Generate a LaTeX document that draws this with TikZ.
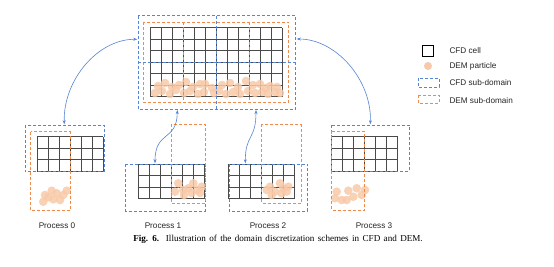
\documentclass[tikz,border=0pt]{standalone}
\usepackage{fontspec}
\setmainfont{Liberation Serif}
\newfontfamily\labelfont{Liberation Sans}
\usetikzlibrary{arrows.meta}
\definecolor{cfdblue}{HTML}{5585D4}
\definecolor{demorange}{HTML}{EE8A4A}
\definecolor{peach}{HTML}{F8C9A8}
\definecolor{gridgray}{HTML}{4A4A4A}
\tikzset{
  cell/.style={draw=gridgray, line width=0.8pt},
  cfdbox/.style={draw=cfdblue, line width=0.9pt, dash pattern=on 3pt off 2pt},
  dembox/.style={draw=demorange, line width=0.9pt, dash pattern=on 3pt off 2pt},
  particle/.style={fill=peach, fill opacity=0.85, draw=none},
  link/.style={draw=cfdblue, line width=0.6pt, {Stealth[length=4pt,width=3pt]}-{Stealth[length=4pt,width=3pt]}},
  plabel/.style={font=\labelfont\fontsize{8.2}{9}\selectfont, text=black!85, inner sep=0pt},
  legtext/.style={font=\labelfont\fontsize{8.2}{9}\selectfont, text=black!85, inner sep=0pt, anchor=west},
}
\newcommand\mygrid[4]{%
  \foreach \i in {0,...,#3} {\draw[cell] ({#1+\i*11},#2) -- ({#1+\i*11},{#2+#4*11.5});}
  \foreach \j in {0,...,#4} {\draw[cell] (#1,{#2+\j*11.5}) -- ({#1+#3*11},{#2+\j*11.5});}
}
\begin{document}
\begin{tikzpicture}[x=1pt,y=-1pt]
\useasboundingbox (0,0) rectangle (554,267);
\fill[white] (0,0) rectangle (554,267);

% ---------- top global domain ----------
\mygrid{150}{27.7}{12}{6}
\foreach \px/\py in {158/86,165/83,172/87,179/85,186/82,193/87,200/84,205/84,212/88,222/85,230/83,238/87,246/81,253/85,260/84,266/88,270/86,277/87,
                     155/93,162/91,170/94,176/90,184/93,190/91,198/94,204/92,214/93,219/91,226/94,233/92,240/94,248/91,255/93,262/92,268/94,275/92,280/93}
  {\fill[particle] (\px,\py) circle (4.3);}
\draw[dembox] (143.3,22.3) rectangle (288.7,102.7);
\draw[dembox] (183.3,22.3) -- (183.3,102.7);
\draw[dembox] (249.3,22.3) -- (249.3,102.7);
\draw[cfdbox] (138.3,15.7) rectangle (295.3,109.3);
\draw[cfdbox] (216.7,15.7) -- (216.7,109.3);
\draw[cfdbox] (138.3,62.3) -- (295.3,62.3);

% ---------- Process 0 ----------
\mygrid{37.3}{136.7}{6}{3}
\foreach \px/\py in {43.3/201.7,48.3/197.3,51.7/190.7,56.7/193.3,60/200,63.3/195,66.7/190.7,53.3/199.3,45/195}
  {\fill[particle] (\px,\py) circle (4.3);}
\draw[cfdbox] (25,125) rectangle (104,171.7);
\draw[dembox] (30.7,131.7) rectangle (70,210.7);

% ---------- Process 1 ----------
\mygrid{138.3}{164.3}{6}{3}
\foreach \px/\py in {178.3/183.3,183.3/190,188.3/188.3,193.3/183.3,197.3/190,201.7/186.7,175/191.7,191.7/193,200/193,184/195}
  {\fill[particle] (\px,\py) circle (4.3);}
\draw[cfdbox] (125.7,164.3) rectangle (205,211);
\draw[dembox] (171,124.3) rectangle (205,203.3);

% ---------- Process 2 ----------
\mygrid{228.3}{164.3}{6}{3}
\foreach \px/\py in {266.7/190,270/186.7,275/191.7,280/183.3,283.3/188.3,286.7/191.7,288.3/186.7,271.7/195,281.7/193.3}
  {\fill[particle] (\px,\py) circle (4.3);}
\draw[cfdbox] (229,164.3) rectangle (307.7,211);
\draw[dembox] (261.7,124.3) rectangle (301,203.3);

% ---------- Process 3 ----------
\mygrid{331.7}{136.7}{6}{3}
\foreach \px/\py in {336.7/191.7,341.7/200,348.3/190.7,353.3/196.7,356.7/188.3,361.7/195,365/190,346.7/200,335/198.3}
  {\fill[particle] (\px,\py) circle (4.3);}
\draw[cfdbox] (331,125) rectangle (409.3,171);
\draw[dembox] (331.7,131) rectangle (364.3,210);

% ---------- connectors ----------
\coordinate (topL) at (137.3,39.3);
\coordinate (topR) at (296.7,39);
\coordinate (topB1) at (177.3,110);
\coordinate (topB2) at (256,110);
\coordinate (p0) at (64.3,124.3);
\coordinate (p1) at (155,163.3);
\coordinate (p2) at (245.3,163.3);
\coordinate (p3) at (370.3,124.3);
\draw[link] (topL) .. controls (98,39) and (63,80) .. (p0);
\draw[link] (topR) .. controls (336,39) and (372,80) .. (p3);
\draw[link] (topB1) .. controls (177,142) and (155,130) .. (p1);
\draw[link] (topB2) .. controls (256,140) and (245.3,134) .. (p2);

% ---------- labels ----------
\node[plabel] (l0) at (57,226) {Process 0};
\node[plabel] (l1) at (163,226) {Process 1};
\node[plabel] (l2) at (268,226) {Process 2};
\node[plabel] (l3) at (374,226) {Process 3};

% ---------- legend ----------
\draw[draw=black, line width=0.9pt] (422,45.7) rectangle (433,56);
\fill[peach] (428,66) circle (4);
\draw[cfdbox] (418,78) rectangle (439,87);
\draw[dembox] (418,95) rectangle (439,103);
\node[legtext] (g1) at (449.3,50.5) {CFD cell};
\node[legtext] (g2) at (449.3,66.5) {DEM particle};
\node[legtext] (g3) at (449.3,83) {CFD sub-domain};
\node[legtext] (g4) at (449.3,100.5) {DEM sub-domain};

% ---------- caption ----------
\node[inner sep=0pt, font=\fontsize{9.1}{10}\selectfont] (cap) at (278,239.5) {\spaceskip=3.4pt plus 1pt\textbf{Fig. 6.}\ \ Illustration of the domain discretization schemes in CFD and DEM.};
\end{tikzpicture}
\end{document}
